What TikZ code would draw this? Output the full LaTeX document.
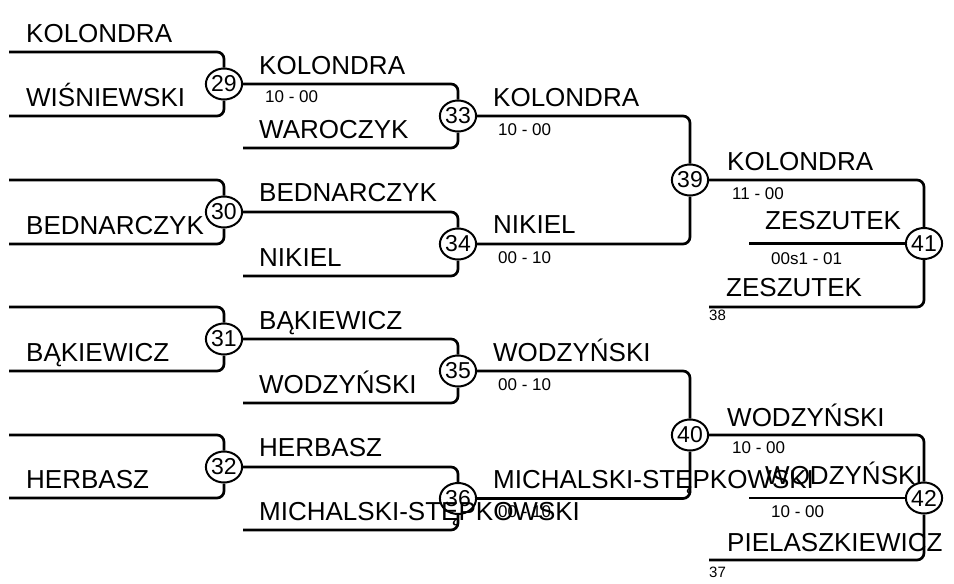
\documentclass[tikz,border=0pt]{standalone}
\usepackage{fontspec}
\setmainfont{Liberation Sans}
\usetikzlibrary{shapes.geometric}
\begin{document}
\begin{tikzpicture}[x=1pt,y=-1pt,
  br/.style={line width=2.7pt, rounded corners=7pt},
  mnum/.style={ellipse, draw, line width=2pt, fill=white, minimum width=36pt, minimum height=31pt, inner sep=0pt, font=\fontsize{23}{25}\selectfont},
  nm/.style={anchor=base west, inner sep=0pt, font=\fontsize{26}{30}\selectfont},
  sc/.style={anchor=base west, inner sep=0pt, font=\fontsize{17}{20}\selectfont},
  sm/.style={anchor=base west, inner sep=0pt, font=\fontsize{15}{17}\selectfont}]
\fill[white] (0,0) rectangle (954,584);
\useasboundingbox (0,0) rectangle (954,584);
% match circles
\node[mnum] (m29) at (224,84) {29};
\node[mnum] (m30) at (224,212) {30};
\node[mnum] (m31) at (224,339) {31};
\node[mnum] (m32) at (224,467) {32};
\node[mnum] (m33) at (458,116) {33};
\node[mnum] (m34) at (458,244) {34};
\node[mnum] (m35) at (458,371) {35};
\node[mnum] (m36) at (458,498.5) {36};
\node[mnum] (m39) at (690,180) {39};
\node[mnum] (m40) at (690,435) {40};
\node[mnum] (m41) at (924,243.5) {41};
\node[mnum] (m42) at (924,498) {42};
% free line starts
\coordinate (a1) at (9,52);
\coordinate (a2) at (9,116);
\coordinate (a3) at (9,180);
\coordinate (a4) at (9,244);
\coordinate (a5) at (9,307);
\coordinate (a6) at (9,371);
\coordinate (a7) at (9,435);
\coordinate (a8) at (9,498);
\coordinate (b1) at (243,148);
\coordinate (b2) at (243,276);
\coordinate (b3) at (243,403);
\coordinate (b4) at (243,530);
\coordinate (c1) at (749,243.5);
\coordinate (c2) at (709,307);
\coordinate (c3) at (749,498);
\coordinate (c4) at (709,560);
% round 1
\draw[br] (a1) -| (m29);
\draw[br] (a2) -| (m29);
\draw[br] (a3) -| (m30);
\draw[br] (a4) -| (m30);
\draw[br] (a5) -| (m31);
\draw[br] (a6) -| (m31);
\draw[br] (a7) -| (m32);
\draw[br] (a8) -| (m32);
% round 2
\draw[br] (m29) -| (m33);
\draw[br] (b1) -| (m33);
\draw[br] (m30) -| (m34);
\draw[br] (b2) -| (m34);
\draw[br] (m31) -| (m35);
\draw[br] (b3) -| (m35);
\draw[br] (m32) -| (m36);
\draw[br] (b4) -| (m36);
% round 3
\draw[br] (m33) -| (m39);
\draw[br] (m34) -| (m39);
\draw[br] (m35) -| (m40);
\draw[br] (m36) -| (m40);
% round 4
\draw[br] (m39) -| (m41);
\draw[br] (c1) -- (m41);
\draw[br] (c2) -| (m41);
\draw[br] (m40) -| (m42);
\draw[br] (c3) -- (m42);
\draw[br] (c4) -| (m42);
% names round 1
\node[nm] (n1) at (26,42) {KOLONDRA};
\node[nm] (n2) at (26,106) {WIŚNIEWSKI};
\node[nm] (n3) at (26,234) {BEDNARCZYK};
\node[nm] (n4) at (26,361) {BĄKIEWICZ};
\node[nm] (n5) at (26,488) {HERBASZ};
% names round 2
\node[nm] (p1) at (259,74) {KOLONDRA};
\node[nm] (p2) at (259,138) {WAROCZYK};
\node[nm] (p3) at (259,201) {BEDNARCZYK};
\node[nm] (p4) at (259,266) {NIKIEL};
\node[nm] (p5) at (259,329) {BĄKIEWICZ};
\node[nm] (p6) at (259,393) {WODZYŃSKI};
\node[nm] (p7) at (259,456) {HERBASZ};
\node[nm] (p8) at (259,520) {MICHALSKI-STĘPKOWSKI};
% names round 3
\node[nm] (q1) at (493,106) {KOLONDRA};
\node[nm] (q2) at (493,233) {NIKIEL};
\node[nm] (q3) at (493,361) {WODZYŃSKI};
\node[nm] (q4) at (493,488) {MICHALSKI-STĘPKOWSKI};
% names round 4
\node[nm] (r1) at (727,170) {KOLONDRA};
\node[nm] (r2) at (765,229) {ZESZUTEK};
\node[nm] (r3) at (726,296) {ZESZUTEK};
\node[nm] (r4) at (727,426) {WODZYŃSKI};
\node[nm] (r5) at (765,484) {WODZYŃSKI};
\node[nm] (r6) at (727,551) {PIELASZKIEWICZ};
% scores
\node[sc] (s29) at (265,102) {10 - 00};
\node[sc] (s33) at (498,135) {10 - 00};
\node[sc] (s34) at (498,263) {00 - 10};
\node[sc] (s35) at (498,390) {00 - 10};
\node[sc] (s36) at (498,517) {00 - 10};
\node[sc] (s39) at (732,199) {11 - 00};
\node[sc] (s40) at (732,453) {10 - 00};
\node[sc] (s41) at (771,264) {00s1 - 01};
\node[sc] (s42) at (771,517) {10 - 00};
\node[sm] (k38) at (709,320) {38};
\node[sm] (k37) at (709,577) {37};
\end{tikzpicture}
\end{document}
